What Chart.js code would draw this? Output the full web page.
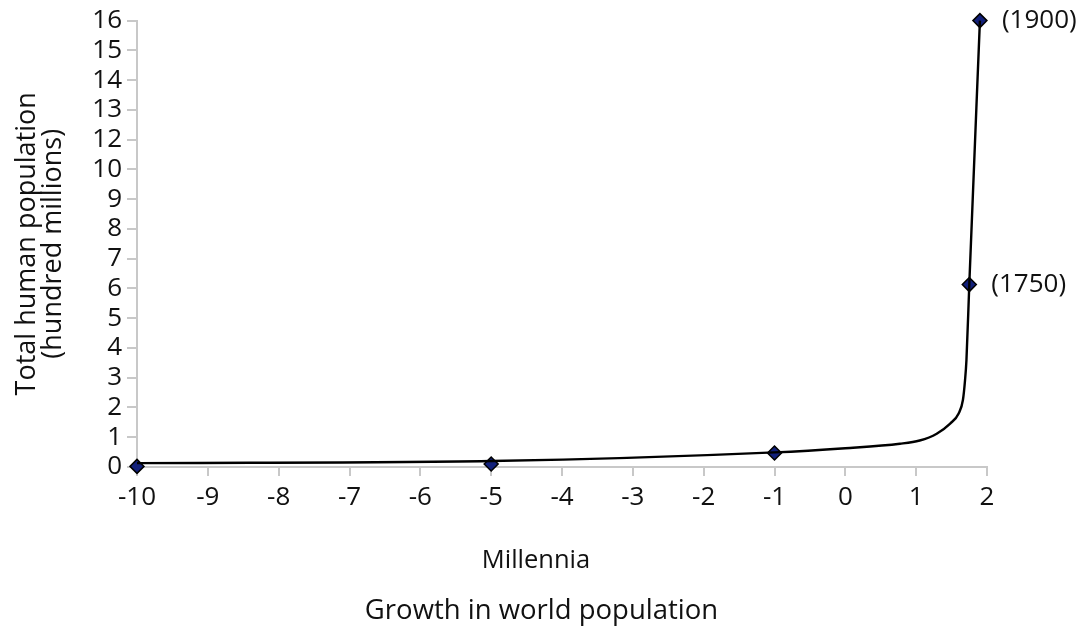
<!DOCTYPE html>
<html>
<head>
<meta charset="utf-8">
<script src="https://cdn.jsdelivr.net/npm/chart.js@4"></script>
<style>
html,body{margin:0;padding:0;background:#fff;}
#wrap{width:1083px;height:630px;}
</style>
</head>
<body>
<div id="wrap"><canvas id="c" width="1083" height="630"></canvas></div>
<script>
// Y tick labels (note: the original axis skips 11)
const yTickLabels = [0,1,2,3,4,5,6,7,8,9,10,12,13,14,15,16];
// Smooth population curve (millennia, hundred millions)
const curveX = [-10, -5, -1, 0, 0.77, 1.05, 1.29, 1.48, 1.6, 1.66, 1.69, 1.71, 1.75, 1.9];
const curveY = [0.13, 0.2, 0.49, 0.63, 0.78, 0.89, 1.12, 1.46, 1.8, 2.25, 2.92, 3.6, 6.13, 16];
// Marked data points
const markX = [-10, -5, -1, 1.75, 1.9];
const markY = [0.02, 0.1, 0.47, 6.13, 16];
const markLabels = ['', '', '', '(1750)', '(1900)'];
const xTitle = 'Millennia';
const chartTitle = 'Growth in world population';

// map a value onto the axis position (tick index) of the broken axis
function toAxis(v){
  for(let i=0;i<yTickLabels.length-1;i++){
    const a=yTickLabels[i], b=yTickLabels[i+1];
    if(v<=b) return i + (v-a)/(b-a);
  }
  return yTickLabels.length-1;
}

const FONT = "'Open Sans', 'DejaVu Sans', sans-serif";
const axisColor = '#c8c8c8';

const textPlugin = {
  id:'extraText',
  afterDatasetsDraw(chart){
    const meta = chart.getDatasetMeta(1);
    const ctx = chart.ctx;
    ctx.save();
    ctx.font = "26px " + FONT;
    ctx.fillStyle = '#111';
    ctx.textAlign = 'left';
    ctx.textBaseline = 'middle';
    meta.data.forEach((pt,i)=>{
      if(markLabels[i]) ctx.fillText(markLabels[i], pt.x + 22, pt.y);
    });
    // x axis title
    ctx.font = "25.5px " + FONT;
    ctx.textAlign = 'center';
    ctx.fillText(xTitle, 536, 561);
    ctx.restore();
  }
};

new Chart(document.getElementById('c'), {
  type:'scatter',
  data:{
    datasets:[
      {
        data: curveX.map((x,i)=>({x, y: toAxis(curveY[i])})),
        showLine:true,
        borderColor:'#000',
        borderWidth:2.4,
        pointRadius:0,
        cubicInterpolationMode:'monotone',
        fill:false,
        clip:false
      },
      {
        data: markX.map((x,i)=>({x, y: toAxis(markY[i])})),
        showLine:false,
        pointStyle:'rectRot',
        pointRadius:7,
        pointBackgroundColor:'#12207a',
        pointBorderColor:'#000',
        pointBorderWidth:1.5,
        clip:false
      }
    ]
  },
  options:{
    responsive:false,
    animation:false,
    layout:{padding:{left:0,right:0,top:10,bottom:0}},
    plugins:{
      legend:{display:false},
      tooltip:{enabled:false},
      title:{
        display:true,
        position:'bottom',
        text:chartTitle,
        color:'#111',
        font:{family:FONT,size:27.5,weight:'normal',lineHeight:1.2},
        padding:{top:10,bottom:2}
      }
    },
    scales:{
      x:{
        type:'linear',
        min:-10,max:2,
        afterFit(s){ s.height = 118; },
        ticks:{stepSize:1,color:'#111',font:{family:FONT,size:26},padding:6,
          callback:v=>String(v)},
        grid:{drawOnChartArea:false,drawTicks:true,tickLength:9,color:axisColor,lineWidth:2},
        border:{color:axisColor,width:2}
      },
      y:{
        type:'linear',
        min:0,max:15,
        afterFit(s){ s.width = 137; },
        ticks:{stepSize:1,autoSkip:false,color:'#111',font:{family:FONT,size:26},padding:5,
          callback:v=>String(yTickLabels[v])},
        grid:{drawOnChartArea:false,drawTicks:true,tickLength:10,color:axisColor,lineWidth:2},
        border:{color:axisColor,width:2},
        title:{display:true,text:['Total human population','(hundred millions)'],color:'#111',
          font:{family:FONT,size:27,lineHeight:0.98},padding:{top:14,bottom:0}}
      },
      yRight:{
        type:'linear',
        position:'right',
        display:true,
        afterFit(s){ s.width = 96; },
        ticks:{display:false},
        grid:{display:false,drawTicks:false},
        border:{display:false}
      }
    }
  },
  plugins:[textPlugin]
});
</script>
</body>
</html>
